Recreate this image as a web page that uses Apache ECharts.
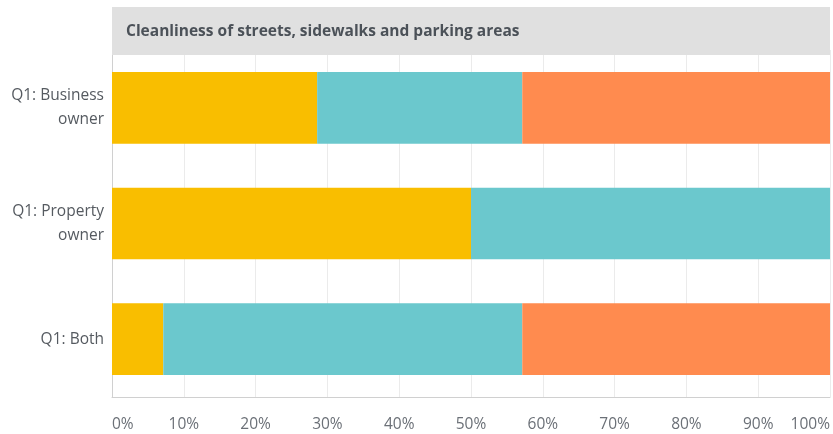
<!DOCTYPE html>
<html>
<head>
<meta charset="utf-8">
<script src="https://cdn.jsdelivr.net/npm/echarts@6/dist/echarts.min.js"></script>
<style>
  html, body { margin: 0; padding: 0; background: #fff; }
  #chart { width: 833px; height: 434px; }
</style>
</head>
<body>
<div id="chart"></div>
<script>
// Survey answers per respondent group, as shares of responses (%)
const chartTitle = 'Cleanliness of streets, sidewalks and parking areas';
const categories = ['Q1: Business\nowner', 'Q1: Property\nowner', 'Q1: Both'];
const seriesNames = ['Answer A', 'Answer B', 'Answer C'];
const valuesA = [28.57, 50.0, 7.14];
const valuesB = [28.57, 50.0, 50.0];
const valuesC = [42.86, 0, 42.86];
const xTicks = [0, 10, 20, 30, 40, 50, 60, 70, 80, 90, 100];

const colors = ['#F9BE00', '#6BC8CD', '#FF8B4F'];
const fontFamily = '"Open Sans", sans-serif';

const chart = echarts.init(document.getElementById('chart'), null, { renderer: 'canvas' });

const seriesData = [valuesA, valuesB, valuesC];

chart.setOption({
  animation: false,
  grid: { left: 112, right: 3, top: 50, bottom: 37, containLabel: false },
  graphic: [
    {
      type: 'rect',
      left: 112, top: 7,
      shape: { width: 718, height: 48 },
      style: { fill: '#E0E0E0' },
      z: 10
    },
    {
      type: 'text',
      left: 126, top: 24,
      style: {
        text: chartTitle,
        fill: '#4B5158',
        font: 'bold 15.5px ' + fontFamily
      },
      z: 11
    }
  ],
  xAxis: {
    type: 'value',
    min: xTicks[0],
    max: xTicks[xTicks.length - 1],
    interval: 10,
    axisLine: { show: true, lineStyle: { color: '#D0D0D0', width: 1 } },
    axisTick: { show: false },
    splitLine: { show: true, lineStyle: { color: '#EBEBEB', width: 1 } },
    axisLabel: {
      formatter: '{value}%',
      color: '#6B7077',
      fontSize: 15.5,
      fontFamily: fontFamily,
      margin: 20,
      alignMinLabel: 'left',
      alignMaxLabel: 'right'
    }
  },
  yAxis: {
    type: 'category',
    data: categories,
    inverse: true,
    axisLine: { show: true, lineStyle: { color: '#D0D0D0', width: 1 } },
    axisTick: { show: false },
    splitLine: { show: false },
    axisLabel: {
      color: '#555A60',
      fontSize: 15.5,
      fontFamily: fontFamily,
      lineHeight: 24,
      margin: 8,
      align: 'right',
      padding: [4, 0, 0, 0]
    }
  },
  series: seriesNames.map((name, i) => ({
    name: name,
    type: 'bar',
    stack: 'total',
    barWidth: '62%',
    itemStyle: { color: colors[i] },
    data: seriesData[i]
  }))
});
</script>
</body>
</html>
